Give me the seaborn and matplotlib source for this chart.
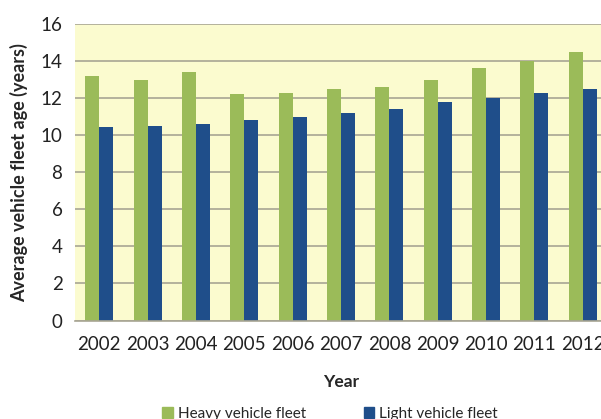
import numpy as np
import pandas as pd
import matplotlib
matplotlib.use('Agg')
import matplotlib.pyplot as plt
import seaborn as sns

# --- DATA ---
years = ['2002', '2003', '2004', '2005', '2006', '2007', '2008', '2009', '2010', '2011', '2012']
heavy_fleet = [13.2, 13.0, 13.4, 12.2, 12.3, 12.5, 12.6, 13.0, 13.6, 14.0, 14.5]
light_fleet = [10.45, 10.5, 10.6, 10.8, 11.0, 11.2, 11.4, 11.8, 12.0, 12.3, 12.5]
series = ['Heavy vehicle fleet', 'Light vehicle fleet']
y_ticks = [0, 2, 4, 6, 8, 10, 12, 14, 16]

# --- STYLE ---
GREEN = '#9BBB59'
BLUE = '#1F4E8A'
BG = '#FBFBCF'
GRID = '#A8A593'

sns.set_style('white')
plt.rcParams['font.family'] = ['Lato', 'DejaVu Sans']

df = pd.DataFrame({
    'Year': years * 2,
    'Age': heavy_fleet + light_fleet,
    'Fleet': [series[0]] * len(years) + [series[1]] * len(years),
})

fig = plt.figure(figsize=(6.01, 4.19), dpi=100)
# plot area is cut off on the right in the original, so let it run past the edge
ax = fig.add_axes([75 / 601, 98.5 / 419, 532 / 601, 296.5 / 419])
ax.set_facecolor(BG)

sns.barplot(data=df, x='Year', y='Age', hue='Fleet', hue_order=series,
            palette=[GREEN, BLUE], width=0.58, gap=0, saturation=1,
            linewidth=0, ax=ax, legend=False)

ax.set_ylim(0, 16)
ax.set_yticks(y_ticks)
ax.set_xlim(-0.5, len(years) - 0.5)
ax.yaxis.grid(True, color=GRID, linewidth=1.2)
ax.set_axisbelow(True)
for side in ['left', 'right', 'top']:
    ax.spines[side].set_visible(False)
ax.spines['bottom'].set_color(GRID)
ax.spines['bottom'].set_linewidth(1.2)
ax.tick_params(axis='both', length=0, labelsize=13.5, colors='#222222')
ax.tick_params(axis='x', pad=11)
ax.tick_params(axis='y', pad=9)

ax.set_xlabel('Year', fontsize=12.5, fontweight='bold', labelpad=15)
ax.set_ylabel('Average vehicle fleet age (years)', fontsize=13, fontweight='bold', labelpad=9)

handles = [plt.Rectangle((0, 0), 1, 1, color=c) for c in [GREEN, BLUE]]
fig.legend(handles, series, loc='center', bbox_to_anchor=(330 / 601, 5 / 419),
           ncol=2, frameon=False, fontsize=11, handlelength=0.7, handleheight=0.7,
           handletextpad=0.3, columnspacing=3.8)

fig.savefig('out.png', dpi=100)
